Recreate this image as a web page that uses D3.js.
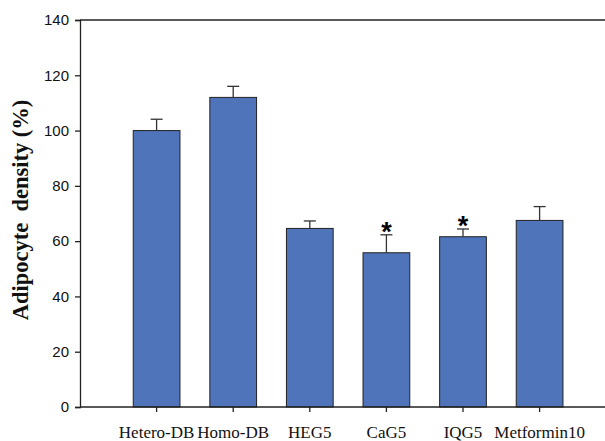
<!DOCTYPE html>
<html>
<head>
<meta charset="utf-8">
<script src="https://cdn.jsdelivr.net/npm/d3@7"></script>
<style>
	body { margin: 0; background: #fff; }
	svg { display: block; }
</style>
</head>
<body>
<svg width="605" height="441"></svg>
<script>
var categories = ["Hetero-DB", "Homo-DB", "HEG5", "CaG5", "IQG5", "Metformin10"]
var means      = [100, 112, 64.6, 55.8, 61.6, 67.5]
var errors     = [4.1, 4.0, 2.7, 6.5, 2.8, 5.0]
var signif     = [false, false, false, true, true, false]
var yTicks     = [0, 20, 40, 60, 80, 100, 120, 140]

var svg = d3.select("svg")
var mLeft = 80, mRight = 605, mTop = 20, mBottom = 407

var y = d3.scaleLinear().domain([0, 140]).range([mBottom, mTop])
var step = 76.6
var x = d3.scaleBand()
	.domain(categories)
	.range([mLeft + step/2, mLeft + step/2 + step*categories.length])
	.paddingInner(0.39)
	.paddingOuter(0.195)

// top frame line
svg.append("line")
	.attr("x1", mLeft).attr("x2", mRight)
	.attr("y1", y(140)).attr("y2", y(140))
	.attr("stroke", "#222").attr("stroke-width", 1.3)

// bars
svg.selectAll(".bar")
		.data(categories)
	.enter().append("rect")
		.attr("class", "bar")
		.attr("x", function(d){ return x(d) })
		.attr("width", x.bandwidth())
		.attr("y", function(d, i){ return y(means[i]) })
		.attr("height", function(d, i){ return y(0) - y(means[i]) })
		.attr("fill", "#4f74b9")
		.attr("stroke", "#222")
		.attr("stroke-width", 1)

// error bars
var err = svg.selectAll(".err")
		.data(categories)
	.enter().append("g")
		.attr("class", "err")
		.attr("stroke", "#333")
		.attr("stroke-width", 1.3)
err.append("line")
	.attr("x1", function(d){ return x(d) + x.bandwidth()/2 })
	.attr("x2", function(d){ return x(d) + x.bandwidth()/2 })
	.attr("y1", function(d, i){ return y(means[i]) })
	.attr("y2", function(d, i){ return y(means[i] + errors[i]) })
err.append("line")
	.attr("x1", function(d){ return x(d) + x.bandwidth()/2 - 6 })
	.attr("x2", function(d){ return x(d) + x.bandwidth()/2 + 6 })
	.attr("y1", function(d, i){ return y(means[i] + errors[i]) })
	.attr("y2", function(d, i){ return y(means[i] + errors[i]) })

// significance stars
svg.selectAll(".star")
		.data(categories.filter(function(d, i){ return signif[i] }))
	.enter().append("text")
		.attr("class", "star")
		.attr("x", function(d){ return x(d) + x.bandwidth()/2 })
		.attr("y", function(d){ var i = categories.indexOf(d); return y(means[i] + errors[i]) + 6 })
		.attr("text-anchor", "middle")
		.attr("font-family", "Liberation Sans, Arial, sans-serif")
		.attr("font-weight", "bold")
		.attr("font-size", 27)
		.text("*")

// y axis
var yAxis = svg.append("g")
	.attr("transform", "translate(" + mLeft + ",0)")
	.call(d3.axisLeft(y).tickValues(yTicks).tickSize(5).tickPadding(6))
yAxis.select(".domain").attr("stroke", "#222").attr("stroke-width", 1.3)
yAxis.selectAll(".tick line").attr("stroke", "#222").attr("stroke-width", 1.3)
yAxis.selectAll(".tick text")
	.attr("font-family", "Liberation Sans, Arial, sans-serif")
	.attr("font-size", 15)
	.attr("fill", "#111")

// x axis
var xAxis = svg.append("g")
	.attr("transform", "translate(0," + mBottom + ")")
	.call(d3.axisBottom(x).tickSize(5).tickSizeOuter(0).tickPadding(14))
xAxis.select(".domain").attr("d", "M" + mLeft + ",0H" + mRight).attr("stroke", "#222").attr("stroke-width", 1.3)
xAxis.selectAll(".tick line").attr("stroke", "#222").attr("stroke-width", 1.3)
xAxis.selectAll(".tick text")
	.attr("font-family", "Liberation Serif, Times New Roman, serif")
	.attr("font-size", 17)
	.attr("fill", "#111")

// y label
svg.append("text")
	.attr("transform", "translate(28,210) rotate(-90)")
	.attr("text-anchor", "middle")
	.attr("font-family", "Liberation Serif, Times New Roman, serif")
	.attr("font-weight", "bold")
	.attr("font-size", 22.5)
	.attr("fill", "#111")
	.attr("xml:space", "preserve")
	.text("Adipocyte  density (%)")
</script>
</body>
</html>
